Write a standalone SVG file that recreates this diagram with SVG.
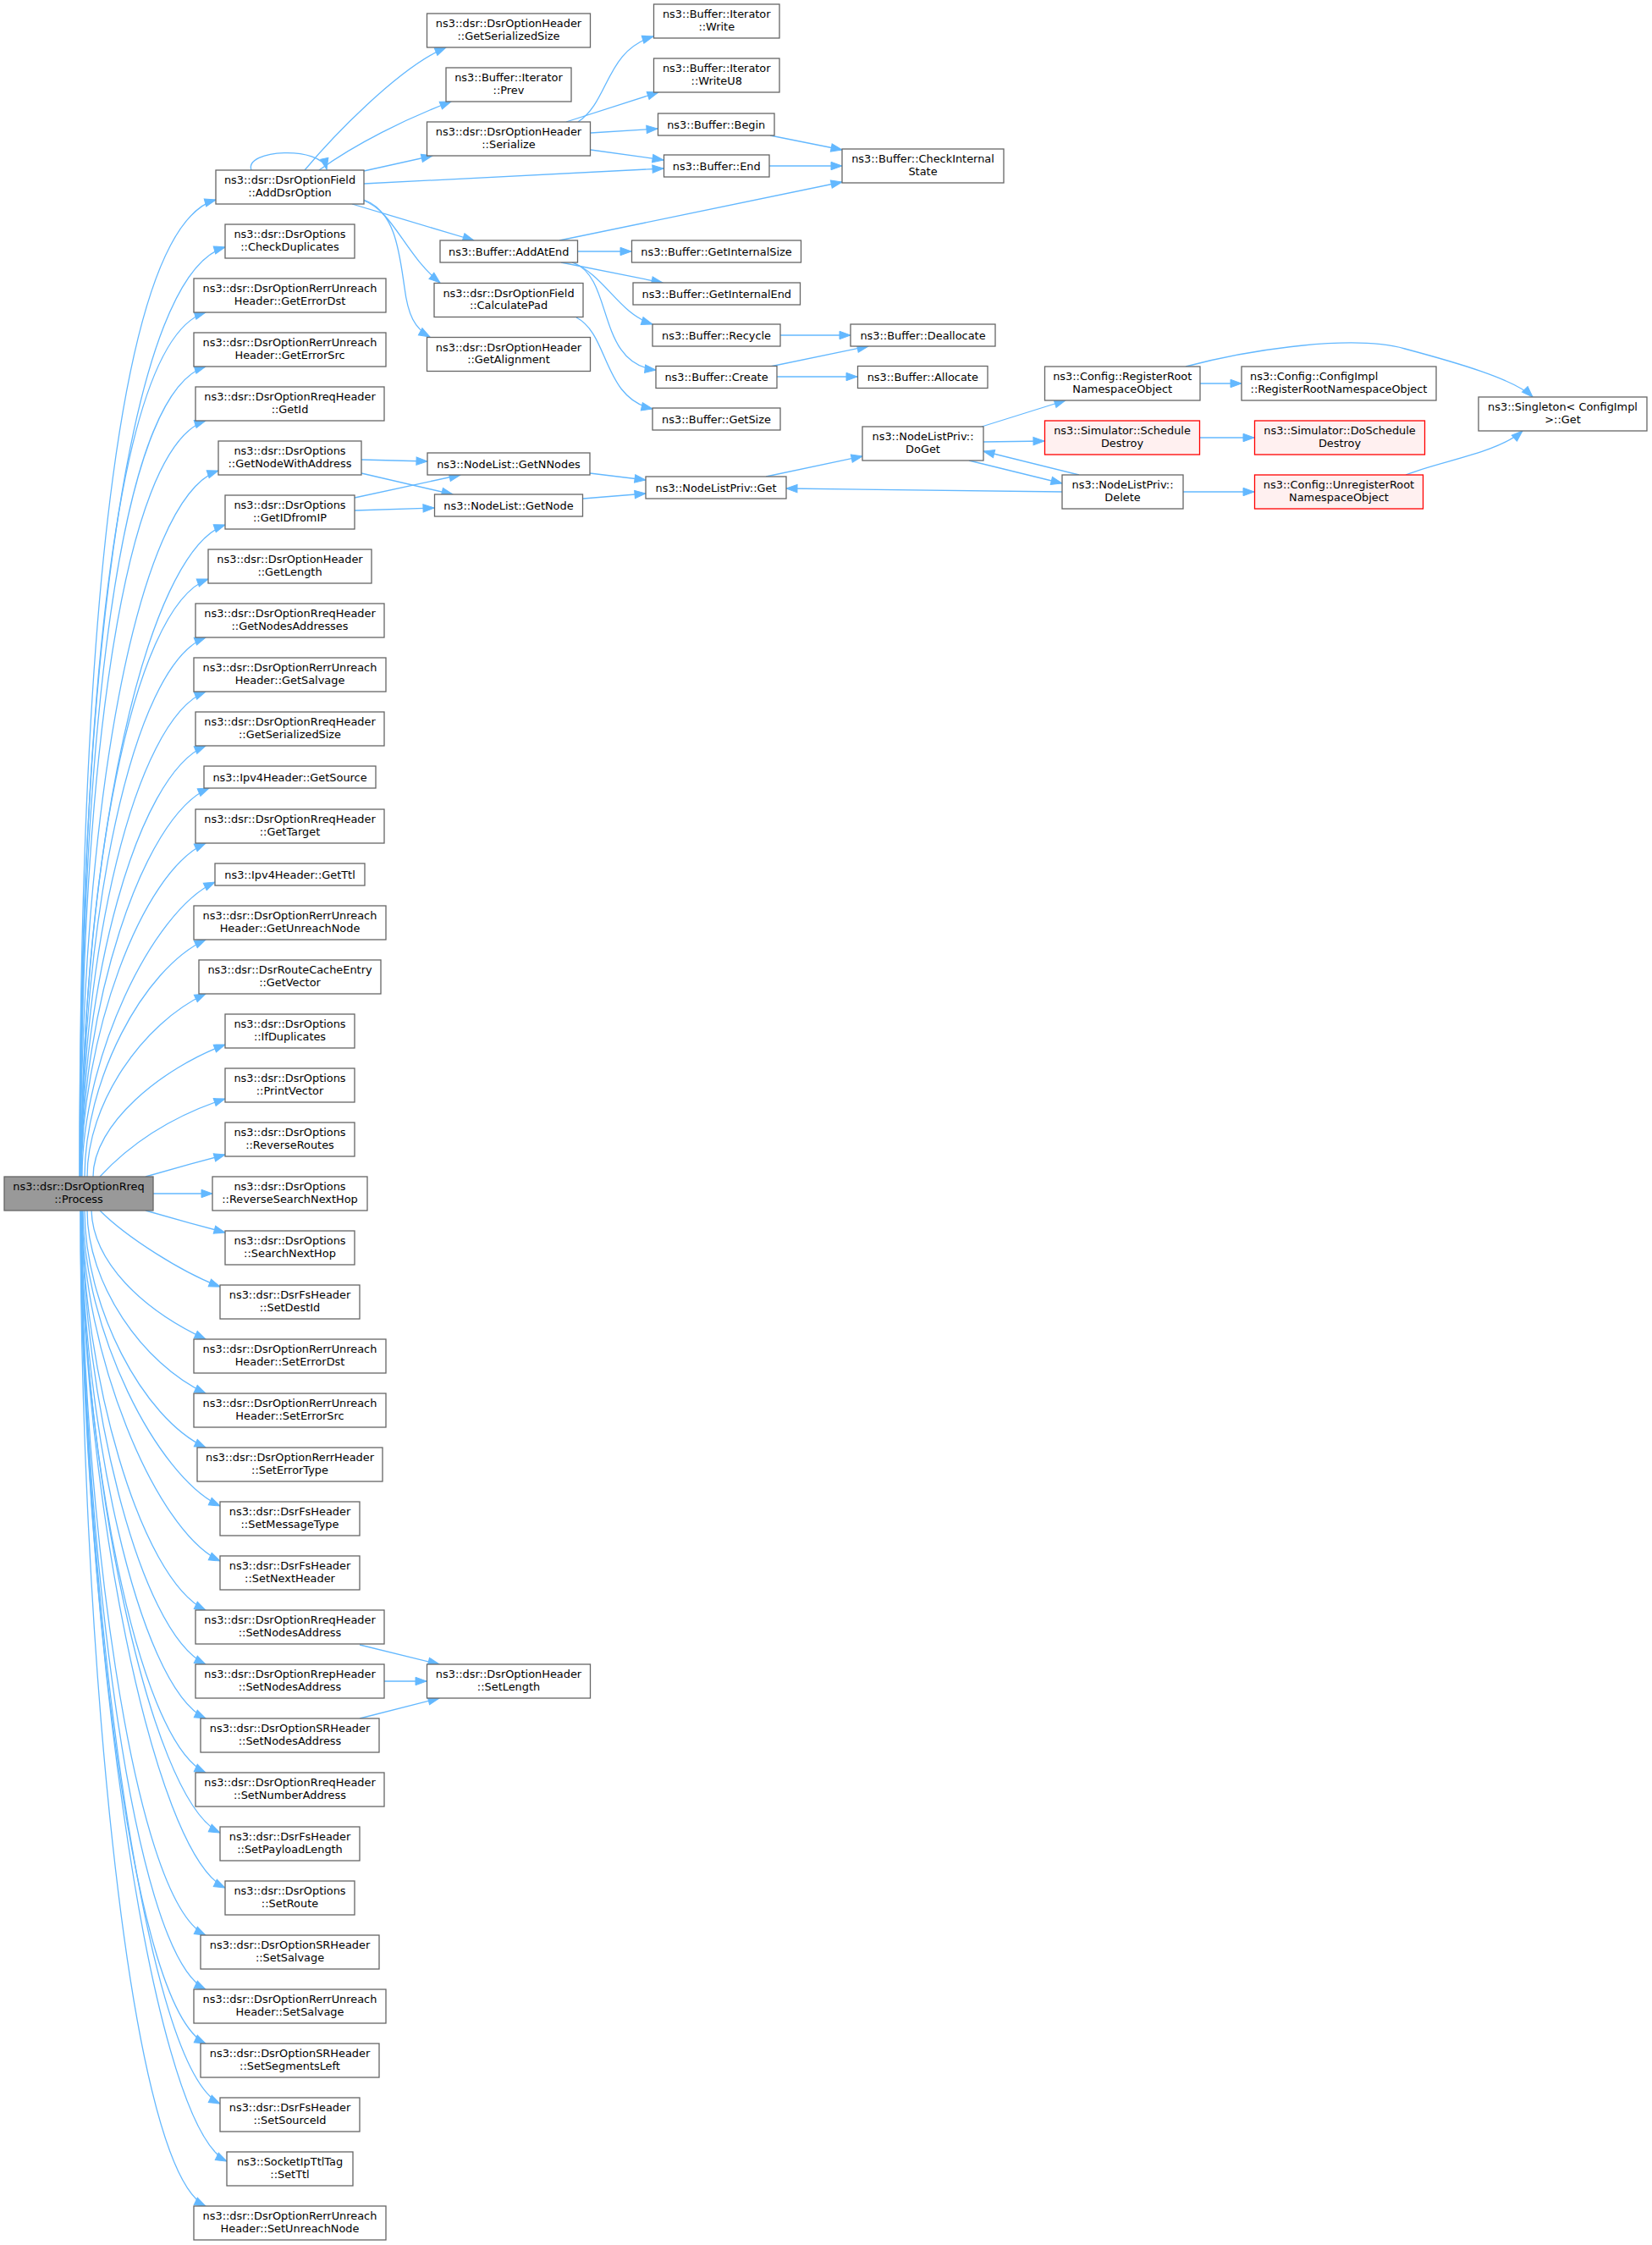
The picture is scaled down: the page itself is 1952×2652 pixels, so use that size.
<svg xmlns="http://www.w3.org/2000/svg" width="1952" height="2652" viewBox="0 0 1952 2652">
<style>
.n rect{fill:#ffffff;stroke:#666666;stroke-width:1.3}
.root rect{fill:#999999}
.red rect{fill:#fff0f0;stroke:#ff0000}
text{font-family:"DejaVu Sans","Liberation Sans",sans-serif;font-size:12.9px;text-anchor:middle;fill:#000000}
.e{fill:none;stroke:#63b8ff;stroke-width:1.3;marker-end:url(#arr)}
</style>
<defs>
<marker id="arr" markerUnits="userSpaceOnUse" markerWidth="16" markerHeight="12" refX="13" refY="4.7" orient="auto" overflow="visible">
<path d="M0,0 L13,4.7 L0,9.4 Z" fill="#63b8ff" stroke="#63b8ff" stroke-width="1"/>
</marker>
</defs>
<rect width="1952" height="2652" fill="#ffffff"/>
<g id="edges">
<path class="e" d="M94,1390 C94,698 145,266 255,236"/>
<path class="e" d="M94,1390 C94,745 158,322 266,292"/>
<path class="e" d="M95,1390 C95,810 139,400 243,369"/>
<path class="e" d="M95,1390 C95,862 141,464 243,433"/>
<path class="e" d="M95,1390 C95,911 144,529 243,497"/>
<path class="e" d="M95,1390 C95,955 162,588 258,556"/>
<path class="e" d="M96,1390 C96,1001 173,652 266,620"/>
<path class="e" d="M96,1390 C96,1045 155,717 246,684"/>
<path class="e" d="M96,1390 C96,1090 155,786 243,753"/>
<path class="e" d="M96,1390 C96,1129 158,851 243,817"/>
<path class="e" d="M96,1390 C96,1166 161,915 243,881"/>
<path class="e" d="M96,1390 C96,1194 167,965 247,931"/>
<path class="e" d="M96,1390 C96,1228 166,1031 243,996"/>
<path class="e" d="M97,1390 C97,1251 179,1077 254,1042"/>
<path class="e" d="M100,1390 C100,1278 168,1145 243,1110"/>
<path class="e" d="M103,1390 C103,1304 168,1209 243,1174"/>
<path class="e" d="M110,1390 C110,1328 191,1262 266,1234"/>
<path class="e" d="M118,1390 C155,1350 205,1318 266,1298"/>
<path class="e" d="M172,1390 C200,1382 236,1372 266,1364"/>
<path class="e" d="M181,1410 L251,1410"/>
<path class="e" d="M172,1430 C200,1438 236,1448 266,1456"/>
<path class="e" d="M118,1430 C150,1462 215,1503 260,1520"/>
<path class="e" d="M108,1430 C110,1491 168,1547 243,1582"/>
<path class="e" d="M103,1430 C103,1516 168,1611 243,1646"/>
<path class="e" d="M100,1430 C100,1542 168,1675 243,1710"/>
<path class="e" d="M98,1430 C98,1570 185,1744 260,1779"/>
<path class="e" d="M97,1430 C97,1596 183,1808 260,1844"/>
<path class="e" d="M97,1430 C97,1619 165,1865 243,1902"/>
<path class="e" d="M97,1430 C97,1644 163,1928 243,1966"/>
<path class="e" d="M96,1430 C96,1670 162,1992 243,2030"/>
<path class="e" d="M96,1430 C96,1696 160,2055 243,2094"/>
<path class="e" d="M96,1430 C96,1724 175,2125 260,2165"/>
<path class="e" d="M96,1430 C96,1750 180,2189 266,2230"/>
<path class="e" d="M96,1430 C96,1772 155,2244 243,2286"/>
<path class="e" d="M96,1430 C96,1798 154,2307 243,2350"/>
<path class="e" d="M96,1430 C96,1824 152,2371 243,2414"/>
<path class="e" d="M96,1430 C96,1852 167,2441 260,2485"/>
<path class="e" d="M95,1430 C95,1879 174,2508 268,2553"/>
<path class="e" d="M95,1430 C95,1900 147,2560 243,2606"/>
<path class="e" d="M360,201 C390,165 470,80 527,56"/>
<path class="e" d="M377,201 C420,170 480,140 533,120"/>
<path class="e" d="M297,201 C288,176 380,172 386,200"/>
<path class="e" d="M430,202 L511,184"/>
<path class="e" d="M430,217 L784,199"/>
<path class="e" d="M416,241 L560,284"/>
<path class="e" d="M430,237 C465,250 478,300 520,334"/>
<path class="e" d="M430,236 C468,250 472,300 478,340 C482,372 490,388 508,398"/>
<path class="e" d="M683,144 C720,120 715,60 772,43"/>
<path class="e" d="M669,144 L778,109"/>
<path class="e" d="M698,157 L777,152"/>
<path class="e" d="M698,177 L784,189"/>
<path class="e" d="M910,160 L995,177"/>
<path class="e" d="M909,196 L995,196"/>
<path class="e" d="M661,284 L995,215"/>
<path class="e" d="M682,297 L746,297"/>
<path class="e" d="M663,310 L783,334"/>
<path class="e" d="M676,310 C715,325 730,370 771,383"/>
<path class="e" d="M679,311 C725,330 705,430 775,437"/>
<path class="e" d="M681,375 C720,395 712,470 771,483"/>
<path class="e" d="M922,396 L1005,396"/>
<path class="e" d="M910,433 L1026,409"/>
<path class="e" d="M918,445 L1013,445"/>
<path class="e" d="M427,543 L505,545"/>
<path class="e" d="M427,559 L535,584"/>
<path class="e" d="M419,588 L544,561"/>
<path class="e" d="M419,603 L513,600"/>
<path class="e" d="M697,559 L763,567"/>
<path class="e" d="M689,589 L763,583"/>
<path class="e" d="M905,563 L1019,539"/>
<path class="e" d="M1160,504 L1259,473"/>
<path class="e" d="M1162,522 L1234,521"/>
<path class="e" d="M1145,544 L1255,571"/>
<path class="e" d="M1275,561 L1162,533"/>
<path class="e" d="M1255,581 L929,577"/>
<path class="e" d="M1418,453 L1467,453"/>
<path class="e" d="M1401,433 C1480,412 1600,395 1660,412 C1720,428 1790,448 1811,469"/>
<path class="e" d="M1418,517 L1482,517"/>
<path class="e" d="M1398,581 L1482,581"/>
<path class="e" d="M1661,561 C1700,545 1770,535 1799,509"/>
<path class="e" d="M425,1943 L519,1966"/>
<path class="e" d="M454,1986 L504,1986"/>
<path class="e" d="M425,2030 L519,2006"/>
</g>
<g id="nodes">
<g id="process" class="n root"><rect x="5" y="1390" width="176" height="40"/><text><tspan x="93" y="1406.3">ns3::dsr::DsrOptionRreq</tspan><tspan x="93" y="1420.8">::Process</tspan></text></g>
<g id="adddsroption" class="n"><rect x="255" y="201" width="175" height="40"/><text><tspan x="342.5" y="217.3">ns3::dsr::DsrOptionField</tspan><tspan x="342.5" y="231.8">::AddDsrOption</tspan></text></g>
<g id="checkduplicates" class="n"><rect x="266" y="265" width="153" height="40"/><text><tspan x="342.5" y="281.3">ns3::dsr::DsrOptions</tspan><tspan x="342.5" y="295.8">::CheckDuplicates</tspan></text></g>
<g id="geterrordst" class="n"><rect x="229" y="329" width="227" height="40"/><text><tspan x="342.5" y="345.3">ns3::dsr::DsrOptionRerrUnreach</tspan><tspan x="342.5" y="359.8">Header::GetErrorDst</tspan></text></g>
<g id="geterrorsrc" class="n"><rect x="229" y="393" width="227" height="40"/><text><tspan x="342.5" y="409.3">ns3::dsr::DsrOptionRerrUnreach</tspan><tspan x="342.5" y="423.8">Header::GetErrorSrc</tspan></text></g>
<g id="getid" class="n"><rect x="231" y="457" width="223" height="40"/><text><tspan x="342.5" y="473.3">ns3::dsr::DsrOptionRreqHeader</tspan><tspan x="342.5" y="487.8">::GetId</tspan></text></g>
<g id="getnodewithaddress" class="n"><rect x="258" y="521" width="169" height="40"/><text><tspan x="342.5" y="537.3">ns3::dsr::DsrOptions</tspan><tspan x="342.5" y="551.8">::GetNodeWithAddress</tspan></text></g>
<g id="getidfromip" class="n"><rect x="266" y="585" width="153" height="40"/><text><tspan x="342.5" y="601.3">ns3::dsr::DsrOptions</tspan><tspan x="342.5" y="615.8">::GetIDfromIP</tspan></text></g>
<g id="getlength" class="n"><rect x="246" y="649" width="193" height="40"/><text><tspan x="342.5" y="665.3">ns3::dsr::DsrOptionHeader</tspan><tspan x="342.5" y="679.8">::GetLength</tspan></text></g>
<g id="getnodesaddresses" class="n"><rect x="231" y="713" width="223" height="40"/><text><tspan x="342.5" y="729.3">ns3::dsr::DsrOptionRreqHeader</tspan><tspan x="342.5" y="743.8">::GetNodesAddresses</tspan></text></g>
<g id="getsalvage" class="n"><rect x="229" y="777" width="227" height="40"/><text><tspan x="342.5" y="793.3">ns3::dsr::DsrOptionRerrUnreach</tspan><tspan x="342.5" y="807.8">Header::GetSalvage</tspan></text></g>
<g id="getserializedsize-rreq" class="n"><rect x="231" y="841" width="223" height="40"/><text><tspan x="342.5" y="857.3">ns3::dsr::DsrOptionRreqHeader</tspan><tspan x="342.5" y="871.8">::GetSerializedSize</tspan></text></g>
<g id="getsource" class="n"><rect x="241" y="905" width="203" height="26"/><text x="342.5" y="922.6">ns3::Ipv4Header::GetSource</text></g>
<g id="gettarget" class="n"><rect x="231" y="956" width="223" height="40"/><text><tspan x="342.5" y="972.3">ns3::dsr::DsrOptionRreqHeader</tspan><tspan x="342.5" y="986.8">::GetTarget</tspan></text></g>
<g id="getttl" class="n"><rect x="254" y="1020" width="177" height="26"/><text x="342.5" y="1037.6">ns3::Ipv4Header::GetTtl</text></g>
<g id="getunreachnode" class="n"><rect x="229" y="1070" width="227" height="40"/><text><tspan x="342.5" y="1086.3">ns3::dsr::DsrOptionRerrUnreach</tspan><tspan x="342.5" y="1100.8">Header::GetUnreachNode</tspan></text></g>
<g id="getvector" class="n"><rect x="235" y="1134" width="215" height="40"/><text><tspan x="342.5" y="1150.3">ns3::dsr::DsrRouteCacheEntry</tspan><tspan x="342.5" y="1164.8">::GetVector</tspan></text></g>
<g id="ifduplicates" class="n"><rect x="266" y="1198" width="153" height="40"/><text><tspan x="342.5" y="1214.3">ns3::dsr::DsrOptions</tspan><tspan x="342.5" y="1228.8">::IfDuplicates</tspan></text></g>
<g id="printvector" class="n"><rect x="266" y="1262" width="153" height="40"/><text><tspan x="342.5" y="1278.3">ns3::dsr::DsrOptions</tspan><tspan x="342.5" y="1292.8">::PrintVector</tspan></text></g>
<g id="reverseroutes" class="n"><rect x="266" y="1326" width="153" height="40"/><text><tspan x="342.5" y="1342.3">ns3::dsr::DsrOptions</tspan><tspan x="342.5" y="1356.8">::ReverseRoutes</tspan></text></g>
<g id="reversesearchnexthop" class="n"><rect x="251" y="1390" width="183" height="40"/><text><tspan x="342.5" y="1406.3">ns3::dsr::DsrOptions</tspan><tspan x="342.5" y="1420.8">::ReverseSearchNextHop</tspan></text></g>
<g id="searchnexthop" class="n"><rect x="266" y="1454" width="153" height="40"/><text><tspan x="342.5" y="1470.3">ns3::dsr::DsrOptions</tspan><tspan x="342.5" y="1484.8">::SearchNextHop</tspan></text></g>
<g id="setdestid" class="n"><rect x="260" y="1518" width="165" height="40"/><text><tspan x="342.5" y="1534.3">ns3::dsr::DsrFsHeader</tspan><tspan x="342.5" y="1548.8">::SetDestId</tspan></text></g>
<g id="seterrordst" class="n"><rect x="229" y="1582" width="227" height="40"/><text><tspan x="342.5" y="1598.3">ns3::dsr::DsrOptionRerrUnreach</tspan><tspan x="342.5" y="1612.8">Header::SetErrorDst</tspan></text></g>
<g id="seterrorsrc" class="n"><rect x="229" y="1646" width="227" height="40"/><text><tspan x="342.5" y="1662.3">ns3::dsr::DsrOptionRerrUnreach</tspan><tspan x="342.5" y="1676.8">Header::SetErrorSrc</tspan></text></g>
<g id="seterrortype" class="n"><rect x="233" y="1710" width="219" height="40"/><text><tspan x="342.5" y="1726.3">ns3::dsr::DsrOptionRerrHeader</tspan><tspan x="342.5" y="1740.8">::SetErrorType</tspan></text></g>
<g id="setmessagetype" class="n"><rect x="260" y="1774" width="165" height="40"/><text><tspan x="342.5" y="1790.3">ns3::dsr::DsrFsHeader</tspan><tspan x="342.5" y="1804.8">::SetMessageType</tspan></text></g>
<g id="setnextheader" class="n"><rect x="260" y="1838" width="165" height="40"/><text><tspan x="342.5" y="1854.3">ns3::dsr::DsrFsHeader</tspan><tspan x="342.5" y="1868.8">::SetNextHeader</tspan></text></g>
<g id="setnodesaddress-rreq" class="n"><rect x="231" y="1902" width="223" height="40"/><text><tspan x="342.5" y="1918.3">ns3::dsr::DsrOptionRreqHeader</tspan><tspan x="342.5" y="1932.8">::SetNodesAddress</tspan></text></g>
<g id="setnodesaddress-rrep" class="n"><rect x="231" y="1966" width="223" height="40"/><text><tspan x="342.5" y="1982.3">ns3::dsr::DsrOptionRrepHeader</tspan><tspan x="342.5" y="1996.8">::SetNodesAddress</tspan></text></g>
<g id="setnodesaddress-sr" class="n"><rect x="237" y="2030" width="211" height="40"/><text><tspan x="342.5" y="2046.3">ns3::dsr::DsrOptionSRHeader</tspan><tspan x="342.5" y="2060.8">::SetNodesAddress</tspan></text></g>
<g id="setnumberaddress" class="n"><rect x="231" y="2094" width="223" height="40"/><text><tspan x="342.5" y="2110.3">ns3::dsr::DsrOptionRreqHeader</tspan><tspan x="342.5" y="2124.8">::SetNumberAddress</tspan></text></g>
<g id="setpayloadlength" class="n"><rect x="260" y="2158" width="165" height="40"/><text><tspan x="342.5" y="2174.3">ns3::dsr::DsrFsHeader</tspan><tspan x="342.5" y="2188.8">::SetPayloadLength</tspan></text></g>
<g id="setroute" class="n"><rect x="266" y="2222" width="153" height="40"/><text><tspan x="342.5" y="2238.3">ns3::dsr::DsrOptions</tspan><tspan x="342.5" y="2252.8">::SetRoute</tspan></text></g>
<g id="setsalvage-sr" class="n"><rect x="237" y="2286" width="211" height="40"/><text><tspan x="342.5" y="2302.3">ns3::dsr::DsrOptionSRHeader</tspan><tspan x="342.5" y="2316.8">::SetSalvage</tspan></text></g>
<g id="setsalvage-rerr" class="n"><rect x="229" y="2350" width="227" height="40"/><text><tspan x="342.5" y="2366.3">ns3::dsr::DsrOptionRerrUnreach</tspan><tspan x="342.5" y="2380.8">Header::SetSalvage</tspan></text></g>
<g id="setsegmentsleft" class="n"><rect x="237" y="2414" width="211" height="40"/><text><tspan x="342.5" y="2430.3">ns3::dsr::DsrOptionSRHeader</tspan><tspan x="342.5" y="2444.8">::SetSegmentsLeft</tspan></text></g>
<g id="setsourceid" class="n"><rect x="260" y="2478" width="165" height="40"/><text><tspan x="342.5" y="2494.3">ns3::dsr::DsrFsHeader</tspan><tspan x="342.5" y="2508.8">::SetSourceId</tspan></text></g>
<g id="setttl" class="n"><rect x="268" y="2542" width="149" height="40"/><text><tspan x="342.5" y="2558.3">ns3::SocketIpTtlTag</tspan><tspan x="342.5" y="2572.8">::SetTtl</tspan></text></g>
<g id="setunreachnode" class="n"><rect x="229" y="2606" width="227" height="40"/><text><tspan x="342.5" y="2622.3">ns3::dsr::DsrOptionRerrUnreach</tspan><tspan x="342.5" y="2636.8">Header::SetUnreachNode</tspan></text></g>
<g id="hdr-getserializedsize" class="n"><rect x="504.5" y="16" width="193" height="40"/><text><tspan x="601" y="32.3">ns3::dsr::DsrOptionHeader</tspan><tspan x="601" y="46.8">::GetSerializedSize</tspan></text></g>
<g id="iter-prev" class="n"><rect x="527" y="80" width="148" height="40"/><text><tspan x="601" y="96.3">ns3::Buffer::Iterator</tspan><tspan x="601" y="110.8">::Prev</tspan></text></g>
<g id="hdr-serialize" class="n"><rect x="504.5" y="144" width="193" height="40"/><text><tspan x="601" y="160.3">ns3::dsr::DsrOptionHeader</tspan><tspan x="601" y="174.8">::Serialize</tspan></text></g>
<g id="addatend" class="n"><rect x="520" y="284" width="162.5" height="26"/><text x="601.25" y="301.6">ns3::Buffer::AddAtEnd</text></g>
<g id="calculatepad" class="n"><rect x="513" y="334.5" width="176" height="40"/><text><tspan x="601" y="350.8">ns3::dsr::DsrOptionField</tspan><tspan x="601" y="365.3">::CalculatePad</tspan></text></g>
<g id="getalignment" class="n"><rect x="504.5" y="398.5" width="193" height="40"/><text><tspan x="601" y="414.8">ns3::dsr::DsrOptionHeader</tspan><tspan x="601" y="429.3">::GetAlignment</tspan></text></g>
<g id="getnnodes" class="n"><rect x="505" y="535" width="192" height="26"/><text x="601" y="552.6">ns3::NodeList::GetNNodes</text></g>
<g id="getnode" class="n"><rect x="513.5" y="584" width="175" height="26"/><text x="601" y="601.6">ns3::NodeList::GetNode</text></g>
<g id="setlength" class="n"><rect x="504.5" y="1966" width="193" height="40"/><text><tspan x="601" y="1982.3">ns3::dsr::DsrOptionHeader</tspan><tspan x="601" y="1996.8">::SetLength</tspan></text></g>
<g id="iter-write" class="n"><rect x="772.5" y="5" width="148.5" height="40"/><text><tspan x="846.75" y="21.3">ns3::Buffer::Iterator</tspan><tspan x="846.75" y="35.8">::Write</tspan></text></g>
<g id="iter-writeu8" class="n"><rect x="772.5" y="69" width="148.5" height="40"/><text><tspan x="846.75" y="85.3">ns3::Buffer::Iterator</tspan><tspan x="846.75" y="99.8">::WriteU8</tspan></text></g>
<g id="begin" class="n"><rect x="777.5" y="134" width="137.5" height="26"/><text x="846.25" y="151.6">ns3::Buffer::Begin</text></g>
<g id="end" class="n"><rect x="784.5" y="183" width="124.5" height="26"/><text x="846.75" y="200.6">ns3::Buffer::End</text></g>
<g id="getinternalsize" class="n"><rect x="746.5" y="284" width="200" height="26"/><text x="846.5" y="301.6">ns3::Buffer::GetInternalSize</text></g>
<g id="getinternalend" class="n"><rect x="748" y="334" width="197.5" height="26"/><text x="846.75" y="351.6">ns3::Buffer::GetInternalEnd</text></g>
<g id="recycle" class="n"><rect x="771" y="383" width="151" height="26"/><text x="846.5" y="400.6">ns3::Buffer::Recycle</text></g>
<g id="create" class="n"><rect x="775" y="432.5" width="143" height="26"/><text x="846.5" y="450.1">ns3::Buffer::Create</text></g>
<g id="getsize" class="n"><rect x="771" y="482" width="151" height="26"/><text x="846.5" y="499.6">ns3::Buffer::GetSize</text></g>
<g id="nodelistpriv-get" class="n"><rect x="763" y="563" width="166" height="26"/><text x="846" y="580.6">ns3::NodeListPriv::Get</text></g>
<g id="checkinternalstate" class="n"><rect x="995" y="176" width="191" height="40"/><text><tspan x="1090.5" y="192.3">ns3::Buffer::CheckInternal</tspan><tspan x="1090.5" y="206.8">State</tspan></text></g>
<g id="deallocate" class="n"><rect x="1005" y="383" width="171" height="26"/><text x="1090.5" y="400.6">ns3::Buffer::Deallocate</text></g>
<g id="allocate" class="n"><rect x="1013.5" y="432.5" width="153.5" height="26"/><text x="1090.25" y="450.1">ns3::Buffer::Allocate</text></g>
<g id="doget" class="n"><rect x="1019" y="504" width="143" height="40"/><text><tspan x="1090.5" y="520.3">ns3::NodeListPriv::</tspan><tspan x="1090.5" y="534.8">DoGet</tspan></text></g>
<g id="registerroot" class="n"><rect x="1234.5" y="433" width="183.5" height="40"/><text><tspan x="1326.25" y="449.3">ns3::Config::RegisterRoot</tspan><tspan x="1326.25" y="463.8">NamespaceObject</tspan></text></g>
<g id="scheduledestroy" class="n red"><rect x="1234.5" y="497" width="183" height="40"/><text><tspan x="1326" y="513.3">ns3::Simulator::Schedule</tspan><tspan x="1326" y="527.8">Destroy</tspan></text></g>
<g id="delete" class="n"><rect x="1255" y="561" width="143" height="40"/><text><tspan x="1326.5" y="577.3">ns3::NodeListPriv::</tspan><tspan x="1326.5" y="591.8">Delete</tspan></text></g>
<g id="configimpl-registerroot" class="n"><rect x="1467" y="433" width="230" height="40"/><text><tspan x="1477" y="449.3" text-anchor="start">ns3::Config::ConfigImpl</tspan><tspan x="1582" y="463.8">::RegisterRootNamespaceObject</tspan></text></g>
<g id="doscheduledestroy" class="n red"><rect x="1482.5" y="497" width="201" height="40"/><text><tspan x="1583" y="513.3">ns3::Simulator::DoSchedule</tspan><tspan x="1583" y="527.8">Destroy</tspan></text></g>
<g id="unregisterroot" class="n red"><rect x="1482.5" y="561" width="199" height="40"/><text><tspan x="1582" y="577.3">ns3::Config::UnregisterRoot</tspan><tspan x="1582" y="591.8">NamespaceObject</tspan></text></g>
<g id="singleton-get" class="n"><rect x="1747" y="469" width="199" height="40"/><text><tspan x="1846.5" y="485.3">ns3::Singleton&lt; ConfigImpl</tspan><tspan x="1846.5" y="499.8">&gt;::Get</tspan></text></g>
</g>
</svg>
